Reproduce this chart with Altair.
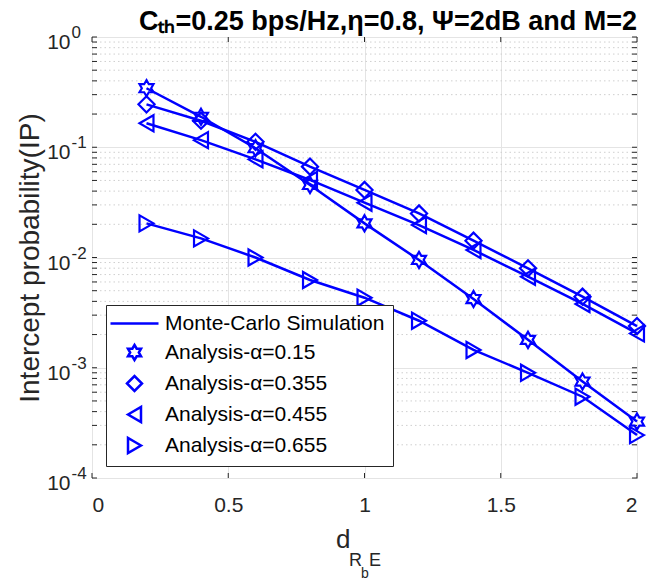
import altair as alt
import pandas as pd

# ---------------- data ----------------
d_rbe = [0.2, 0.4, 0.6, 0.8, 1.0, 1.2, 1.4, 1.6, 1.8, 2.0]
ip_a015 = [0.343, 0.189, 0.098, 0.0455, 0.0204, 0.0095, 0.0042, 0.00179, 0.00075, 0.000325]
ip_a0355 = [0.245, 0.174, 0.112, 0.0667, 0.041, 0.0251, 0.0142, 0.00798, 0.00441, 0.00239]
ip_a0455 = [0.165, 0.116, 0.0777, 0.0505, 0.0314, 0.0197, 0.0117, 0.0067, 0.00379, 0.00205]
ip_a0655 = [0.0204, 0.0149, 0.0100, 0.00625, 0.00432, 0.00267, 0.00145, 0.0009, 0.000546, 0.000245]

series_names = ["Analysis-α=0.15", "Analysis-α=0.355", "Analysis-α=0.455", "Analysis-α=0.655"]
legend_names = ["Monte-Carlo Simulation"] + series_names

x_ticks = [0, 0.5, 1, 1.5, 2]
y_major = [1e-4, 1e-3, 1e-2, 1e-1, 1]
y_exponents = ["-4", "-3", "-2", "-1", "0"]
minor_mantissa = [2, 3, 4, 5, 6, 7, 8, 9]
decades = [1e-4, 1e-3, 1e-2, 1e-1]
y_minor = [m * d for d in decades for m in minor_mantissa]

# ---------------- tables ----------------
rows = []
for name, vals in zip(series_names, [ip_a015, ip_a0355, ip_a0455, ip_a0655]):
    for xv, yv in zip(d_rbe, vals):
        rows.append({"d": xv, "ip": yv, "series": name})
df = pd.DataFrame(rows)
minor_df = pd.DataFrame({"v": y_minor})
yticks_df = pd.DataFrame({"v": y_major + y_minor})
xticks_df = pd.DataFrame({"x": x_ticks})
ylab_df = pd.DataFrame({"v": y_major, "base": ["10"] * len(y_major), "exp": y_exponents})

W, H = 545, 441
BLUE = "#0000ff"
AX = "#262626"
FONT = "Liberation Sans"

yscale = alt.Scale(type="log", domain=[1e-4, 1], nice=False)
xscale = alt.Scale(domain=[0, 2], nice=False, zero=False)

hexagram = ("M0,-1L0.289,-0.5L0.866,-0.5L0.577,0L0.866,0.5L0.289,0.5L0,1"
            "L-0.289,0.5L-0.866,0.5L-0.577,0L-0.866,-0.5L-0.289,-0.5Z")
line_sym = "M-3.2,0H3.2"
shape_range = [line_sym, hexagram, "diamond", "triangle-left", "triangle-right"]

base = alt.Chart(df)

minor_grid = alt.Chart(minor_df).mark_rule(
    color="#cfcfcf", strokeDash=[1.5, 3], strokeWidth=1
).encode(y=alt.Y("v:Q", scale=yscale))

ytick_left = alt.Chart(yticks_df).mark_rule(color=AX, strokeWidth=1).encode(
    y=alt.Y("v:Q", scale=yscale), x=alt.value(0), x2=alt.value(5))
ytick_right = alt.Chart(yticks_df).mark_rule(color=AX, strokeWidth=1).encode(
    y=alt.Y("v:Q", scale=yscale), x=alt.value(W - 5), x2=alt.value(W))
xtick_bottom = alt.Chart(xticks_df).mark_rule(color=AX, strokeWidth=1).encode(
    x=alt.X("x:Q", scale=xscale), y=alt.value(H - 5), y2=alt.value(H))
xtick_top = alt.Chart(xticks_df).mark_rule(color=AX, strokeWidth=1).encode(
    x=alt.X("x:Q", scale=xscale), y=alt.value(0), y2=alt.value(5))

# y tick labels: "10" with a raised exponent
ylab_base = alt.Chart(ylab_df).mark_text(
    align="right", baseline="alphabetic", fontSize=21, font=FONT, color=AX, dy=12
).encode(y=alt.Y("v:Q", scale=yscale), x=alt.value(-21.5), text="base:N")
ylab_exp = alt.Chart(ylab_df).mark_text(
    align="left", baseline="alphabetic", fontSize=17, font=FONT, color=AX, dy=1
).encode(y=alt.Y("v:Q", scale=yscale), x=alt.value(-20.5), text="exp:N")

lines = base.mark_line(color=BLUE, strokeWidth=2.5).encode(
    x=alt.X("d:Q", scale=xscale,
            axis=alt.Axis(values=x_ticks, format="~g", grid=True, gridColor="#e4e4e4",
                          ticks=False, domain=False, labelFontSize=21, labelFont=FONT,
                          labelColor=AX, labelPadding=16, title=None)),
    y=alt.Y("ip:Q", scale=yscale,
            axis=alt.Axis(values=y_major, grid=True, gridColor="#e4e4e4",
                          ticks=False, domain=False, labels=False,
                          title="Intercept probability(IP)", titleFontSize=28, titleFont=FONT,
                          titleFontWeight="normal", titleColor=AX, titleX=-62, titleY=H / 2,
                          titleAngle=270, titleAlign="center", titleBaseline="middle")),
    detail="series:N",
)

points = base.mark_point(filled=False, color=BLUE, size=260, strokeWidth=2.2, opacity=1).encode(
    x=alt.X("d:Q", scale=xscale),
    y=alt.Y("ip:Q", scale=yscale),
    shape=alt.Shape("series:N",
                    scale=alt.Scale(domain=legend_names, range=shape_range),
                    legend=alt.Legend(orient="none", legendX=14, legendY=268, title=None,
                                      labelFontSize=21, labelFont=FONT, labelColor="black",
                                      labelLimit=400,
                                      symbolSize=225, symbolStrokeWidth=2.5,
                                      symbolStrokeColor=BLUE, symbolFillColor="transparent",
                                      symbolOffset=10, labelOffset=20, rowPadding=6,
                                      padding=8, strokeColor=AX, fillColor="white",
                                      cornerRadius=0)),
)

xlabel_parts = [
    ("d", 244, 70, 26),
    ("R", 257, 88, 18),
    ("b", 269, 100, 14),
    ("E", 277, 88, 18),
]
xlabel_layers = []
for txt, px, py, fs in xlabel_parts:
    xlabel_layers.append(
        alt.Chart(pd.DataFrame({"t": [txt]})).mark_text(
            align="left", baseline="alphabetic", fontSize=fs, font=FONT, color=AX
        ).encode(text="t:N", x=alt.value(px), y=alt.value(H + py))
    )

chart = alt.layer(
    minor_grid, ytick_left, ytick_right, xtick_bottom, xtick_top,
    ylab_base, ylab_exp, lines, points, *xlabel_layers
).properties(
    width=W, height=H,
    title=alt.TitleParams(text="Cₜₕ=0.25 bps/Hz,η=0.8, Ψ=2dB and M=2", anchor="end",
                          fontSize=27, font=FONT, fontWeight="bold", color="black",
                          offset=9, baseline="alphabetic", frame="group", dy=42),
    autosize=alt.AutoSizeParams(type="none"),
    padding={"left": 92, "top": 37, "right": 10, "bottom": 102},
    background="white",
).configure_view(stroke=AX, strokeWidth=1)

chart.save("out.html", embed_options={"renderer": "svg", "actions": False})
